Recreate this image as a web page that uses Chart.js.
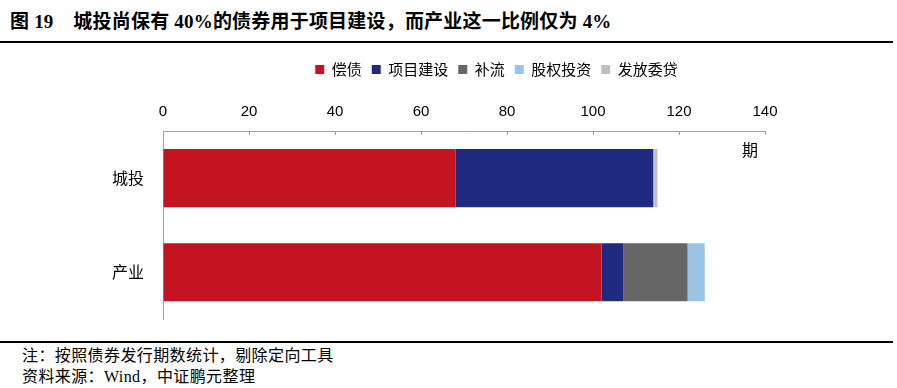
<!DOCTYPE html>
<html>
<head>
<meta charset="utf-8">
<script src="https://cdn.jsdelivr.net/npm/chart.js@4/dist/chart.umd.min.js"></script>
<style>
  body { margin: 0; width: 897px; height: 388px; background: #fff; position: relative; overflow: hidden; }
  .title { position: absolute; left: 10px; top: 6px; font: bold 19px "Liberation Serif", "Noto Sans CJK SC"; letter-spacing: 0.2px; color: #000; white-space: pre; }
  .rule { position: absolute; left: 0; width: 893px; height: 2px; background: #000; }
  .note { position: absolute; left: 22px; font: 16px "Liberation Serif", "Noto Sans CJK SC"; letter-spacing: 0.4px; color: #000; white-space: pre; }
  #wrap { position: absolute; left: 0; top: 52px; width: 897px; height: 288px; }
</style>
</head>
<body>
<div class="title">图 19    城投尚保有 40%的债券用于项目建设，而产业这一比例仅为 4%</div>
<div class="rule" style="top:41px"></div>
<div id="wrap"><canvas id="myChart"></canvas></div>
<div class="rule" style="top:341px"></div>
<div class="note" style="top:342px">注：按照债券发行期数统计，剔除定向工具</div>
<div class="note" style="top:363px">资料来源：Wind，中证鹏元整理</div>
<script>
const categories = ['城投', '产业'];
const seriesNames = ['偿债', '项目建设', '补流', '股权投资', '发放委贷'];
const repayDebt = [68, 102];
const projects = [46, 5];
const workingCapital = [0, 15];
const equityInvest = [0, 4];
const entrustedLoans = [1, 0];
const xTicks = [0, 20, 40, 60, 80, 100, 120, 140];

const barColors = ['#C41422', '#1F2A80', '#666666', '#9BC3E6', '#C0C0C0'];
const seriesValues = [repayDebt, projects, workingCapital, equityInvest, entrustedLoans];

// 범례 위치 보정 + 단위 라벨
const extras = {
  id: 'extras',
  afterLayout(chart) {
    chart.legend.left += 114;
    chart.legend.right += 114;
  },
  afterDraw(chart) {
    const { ctx, chartArea } = chart;
    ctx.save();
    ctx.font = '16px "Noto Sans CJK SC"';
    ctx.fillStyle = '#000';
    ctx.textAlign = 'center';
    ctx.textBaseline = 'middle';
    ctx.fillText('期', chart.scales.x.getPixelForValue(140) - 15, chartArea.top + 19);
    ctx.restore();
  },
};

new Chart(document.getElementById('myChart'), {
  type: 'bar',
  plugins: [extras],
  data: {
    labels: categories,
    datasets: seriesNames.map((name, i) => ({
      label: name,
      data: seriesValues[i],
      backgroundColor: barColors[i],
      barPercentage: 1,
      categoryPercentage: 0.617,
    })),
  },
  options: {
    indexAxis: 'y',
    responsive: true,
    maintainAspectRatio: false,
    animation: false,
    layout: { padding: { left: 0, right: 132, top: 0, bottom: 0 } },
    plugins: {
      legend: {
        position: 'top',
        labels: {
          boxWidth: 9,
          boxHeight: 9,
          padding: 10,
          color: '#000',
          font: { family: '"Noto Sans CJK SC"', size: 15 },
        },
      },
      tooltip: { enabled: false },
    },
    scales: {
      x: {
        position: 'top',
        stacked: true,
        min: 0,
        max: 140,
        afterBuildTicks: (s) => { s.ticks = xTicks.map((v) => ({ value: v })); },
        afterFit: (s) => { s.height = 44; },
        grid: { drawOnChartArea: false, drawTicks: true, tickLength: -4, color: '#A0A0A0' },
        border: { color: '#A0A0A0' },
        ticks: { color: '#000', padding: 14, font: { family: '"Liberation Sans"', size: 15 } },
      },
      y: {
        stacked: true,
        afterFit: (s) => { s.width = 163; },
        grid: { display: false },
        border: { color: '#A0A0A0' },
        ticks: { color: '#000', padding: 11, font: { family: '"Noto Sans CJK SC"', size: 16 } },
      },
    },
  },
});
</script>
</body>
</html>
